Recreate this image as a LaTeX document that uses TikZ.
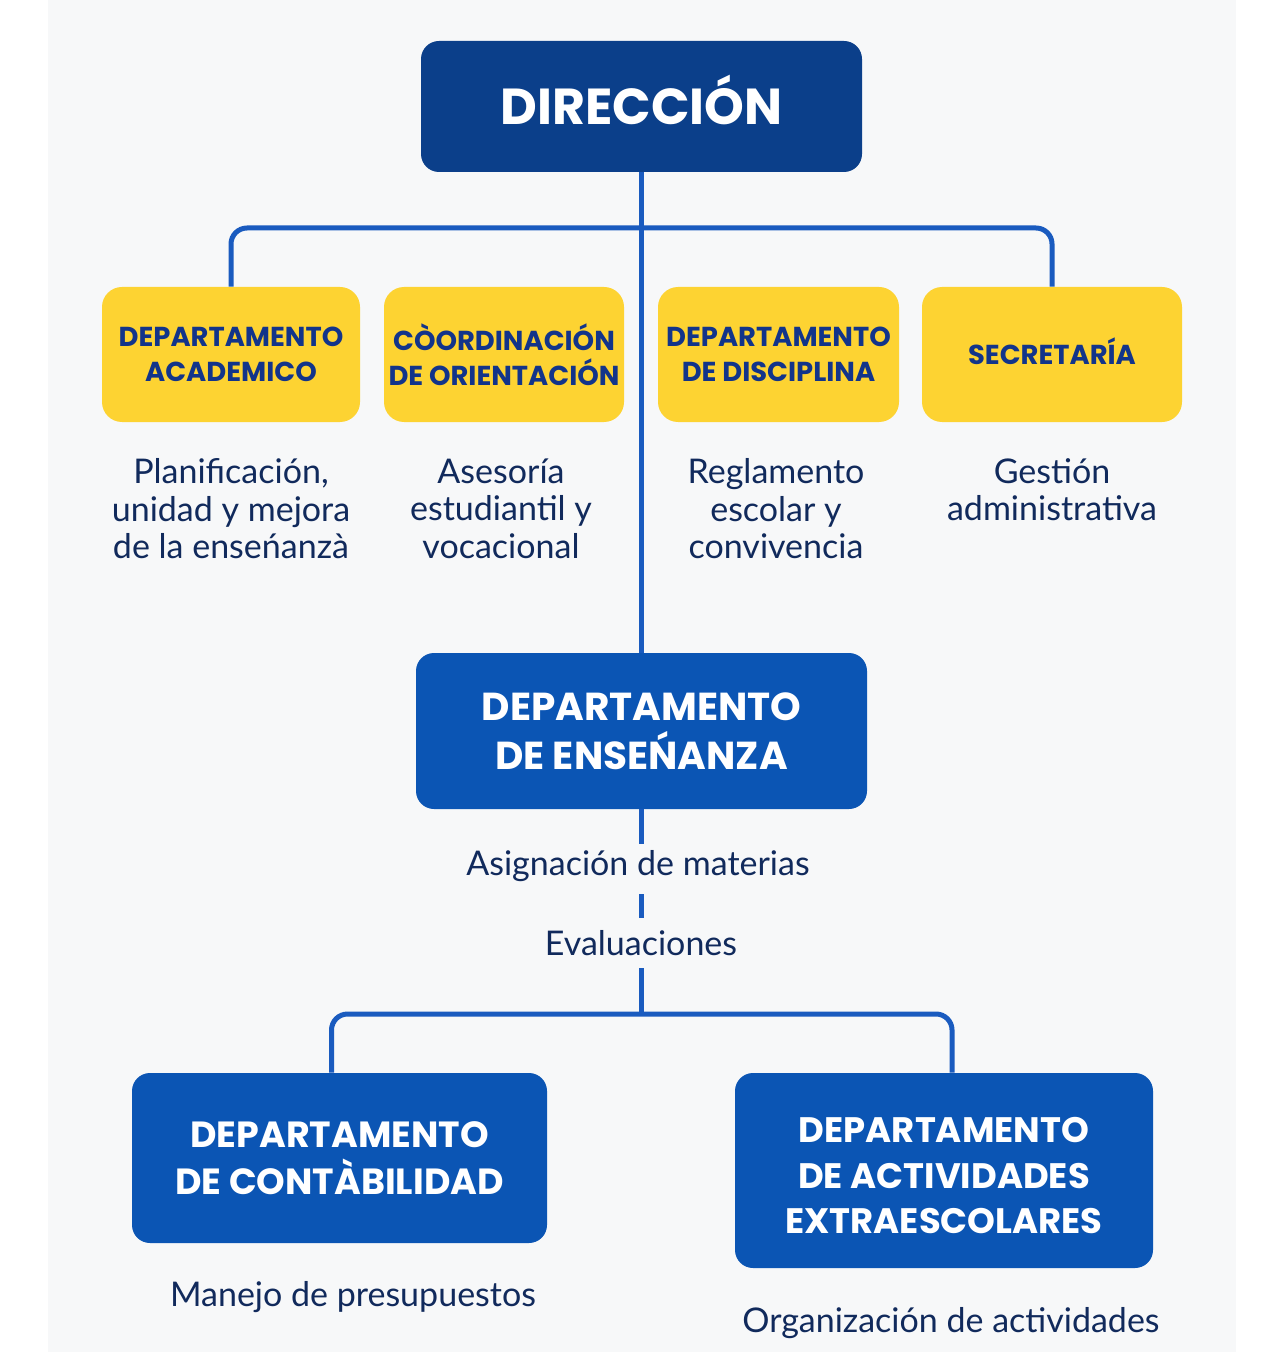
\documentclass[tikz,border=0pt]{standalone}
\usepackage{fontspec}
\newfontfamily\titlefont{Poppins}
\newfontfamily\descfont{Lato}
\definecolor{bgc}{HTML}{F7F8F9}
\definecolor{navy}{HTML}{0B3F8A}
\definecolor{midblue}{HTML}{0B55B4}
\definecolor{linec}{HTML}{1A5BBF}
\definecolor{yel}{HTML}{FDD332}
\definecolor{ytext}{HTML}{12348A}
\definecolor{dtext}{HTML}{112A5C}
\begin{document}
\begin{tikzpicture}[x=0.5pt,y=-0.5pt,
  boxbase/.style={rounded corners=9pt, inner sep=0pt, align=center, font=\titlefont\bfseries},
  topbox/.style={boxbase, fill=navy, text=white},
  bluebox/.style={boxbase, fill=midblue, text=white},
  yelbox/.style={boxbase, fill=yel, text=ytext, rounded corners=10pt, minimum height=67.5pt,
     font=\titlefont\bfseries\fontsize{13.7}{17.5}\selectfont},
  desc/.style={inner sep=0pt, align=center, text=dtext, font=\descfont\fontsize{17}{18.8}\selectfont},
  conn/.style={draw=linec, line width=2.5pt}]
\fill[white] (0,0) rectangle (1284,1352);
\fill[bgc] (48,0) rectangle (1236,1352);
\useasboundingbox (0,0) rectangle (1284,1352);

% nodes
\node[topbox, minimum width=220.5pt, minimum height=65.5pt, text height=17.7pt, text depth=0pt, font=\titlefont\bfseries\fontsize{25.3}{30}\selectfont] (dir) at (641.5,106.5) {DIRECCIÓN};
\node[yelbox, minimum width=129pt] (b1) at (231,354.5) {DEPARTAMENTO\\ACADEMICO};
\node[yelbox, minimum width=120pt] (b2) at (504,354.5) {CÒORDINACIÓN\\DE ORIENTACIÓN};
\node[yelbox, minimum width=120.5pt] (b3) at (778.5,354.5) {DEPARTAMENTO\\DE DISCIPLINA};
\node[yelbox, minimum width=130pt, text height=9.6pt, text depth=0pt] (b4) at (1052,354.5) {SECRETARÍA};
\node[bluebox, minimum width=225.5pt, minimum height=78pt, font=\titlefont\bfseries\fontsize{19.5}{24.5}\selectfont] (ens) at (641.5,731) {DEPARTAMENTO\\DE ENSEŃANZA};
\node[bluebox, minimum width=207.5pt, minimum height=85pt, font=\titlefont\bfseries\fontsize{18.2}{23.5}\selectfont] (cont) at (339.5,1158) {DEPARTAMENTO\\DE CONTÀBILIDAD};
\node[bluebox, minimum width=209pt, minimum height=97.5pt, font=\titlefont\bfseries\fontsize{17.7}{22.75}\selectfont] (extra) at (944,1170.5) {\\[-5pt]DEPARTAMENTO\\DE ACTIVIDADES\\EXTRAESCOLARES};

\node[desc, anchor=north] (d1) at (231,458) {Planificación,\\unidad y mejora\\de la enseńanzà};
\node[desc, anchor=north] (d2) at (501,458) {Asesoría\\estudiantil y\\vocacional};
\node[desc, anchor=north] (d3) at (776,458) {Reglamento\\escolar y\\convivencia};
\node[desc, anchor=north] (d4) at (1052,458) {Gestión\\administrativa};
\node[desc] (asig) at (638,866) {Asignación de materias};
\node[desc] (eval) at (641,943) {Evaluaciones};
\node[desc] (m) at (353,1297) {Manejo de presupuestos};
\node[desc] (o) at (951,1323) {Organización de actividades};

\coordinate (hb) at (641.5,228);
\coordinate (hb2) at (641.5,1014);

% connectors
\draw[conn] (dir.south) -- (ens.north);
\draw[conn, rounded corners=8pt] (b1.north) |- (hb) -| (b4.north);
\draw[conn, shorten >=11pt] (ens.south) -- (ens.south |- asig.center);
\draw[conn, shorten <=14pt, shorten >=12.5pt] (ens.south |- asig.center) -- (ens.south |- eval.center);
\draw[conn, shorten <=12.5pt] (ens.south |- eval.center) -- (hb2);
\draw[conn, rounded corners=8pt] ([xshift=-4pt]cont.north) |- (hb2) -| ([xshift=4pt]extra.north);
\end{tikzpicture}
\end{document}
